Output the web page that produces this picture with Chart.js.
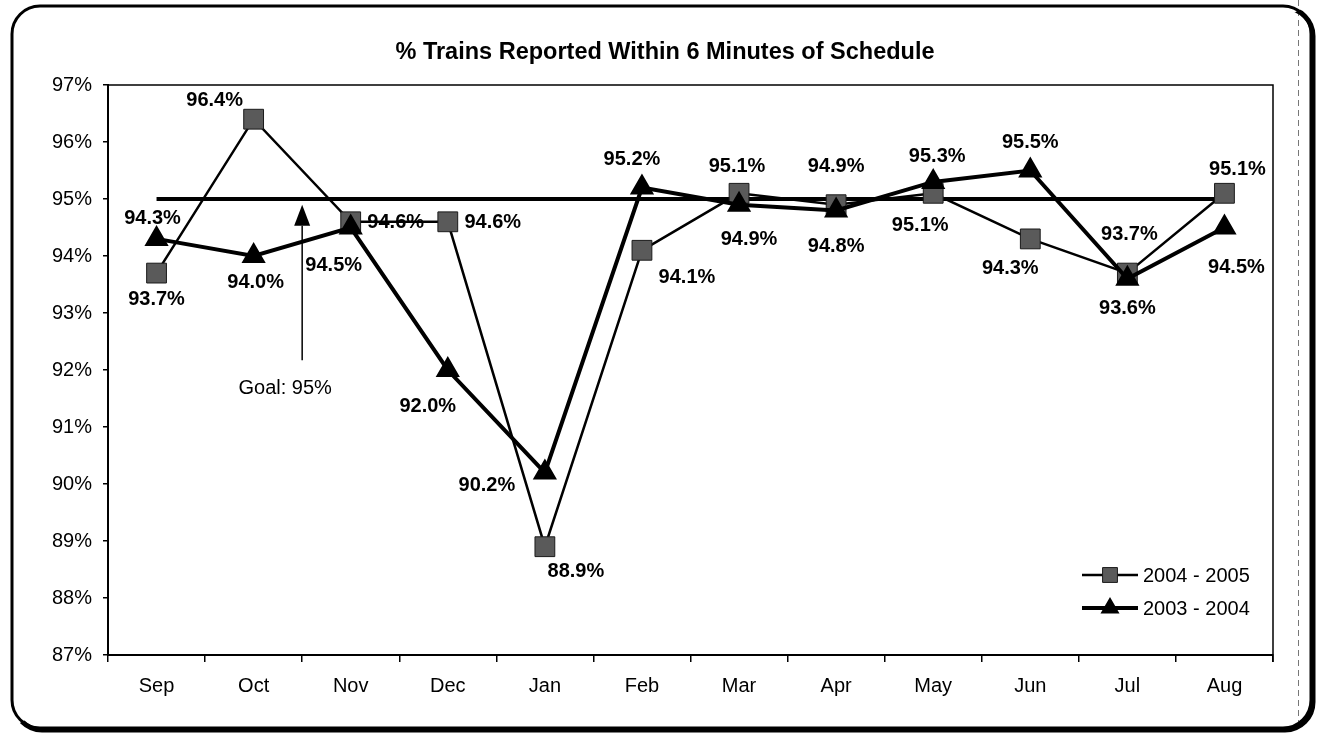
<!DOCTYPE html>
<html>
<head>
<meta charset="utf-8">
<script src="https://cdn.jsdelivr.net/npm/chart.js@4.4.0/dist/chart.umd.min.js"></script>
<style>
  html, body { margin: 0; padding: 0; background: #fff; }
  #wrap { width: 1317px; height: 734px; }
</style>
</head>
<body>
<div id="wrap"><canvas id="c" width="1317" height="734"></canvas></div>
<script>
// ---- data ----
const categories = ['Sep', 'Oct', 'Nov', 'Dec', 'Jan', 'Feb', 'Mar', 'Apr', 'May', 'Jun', 'Jul', 'Aug'];
const series2004_2005 = [93.7, 96.4, 94.6, 94.6, 88.9, 94.1, 95.1, 94.9, 95.1, 94.3, 93.7, 95.1];
const series2003_2004 = [94.3, 94.0, 94.5, 92.0, 90.2, 95.2, 94.9, 94.8, 95.3, 95.5, 93.6, 94.5];
const goalValues = [95, 95, 95, 95, 95, 95, 95, 95, 95, 95, 95, 95];
const yMin = 87, yMax = 97, yStep = 1;
const titleText = '% Trains Reported Within 6 Minutes of Schedule';
const goalText = 'Goal: 95%';
const goalArrow = { index: 1.5, tip: 94.9, head: 94.53, bottom: 92.17 };

// ---- label placement (offsets of label centre from the point, px) ----
const offsets2004_2005 = [[0, 26], [-39, -19], [45, 1], [45, 1], [31, 25], [45, 27], [-2, -27], [0, -38], [-13, 32], [-20, 30], [2, -39], [13, -24]];
const offsets2003_2004 = [[-4, -20], [2, 26], [-17, 38], [-20, 36], [-58, 13], [-10, -28], [10, 35], [0, 36], [4, -25], [0, -28], [0, 30], [12, 40]];

const FONT = '"Liberation Sans", Arial, Helvetica, sans-serif';

const framePlugin = {
  id: 'frame',
  beforeDraw(chart) {
    const ctx = chart.ctx;
    ctx.save();
    ctx.fillStyle = '#fff';
    ctx.fillRect(0, 0, chart.width, chart.height);
    // dashed vertical line at right
    ctx.strokeStyle = '#777';
    ctx.lineWidth = 1;
    ctx.setLineDash([6, 4]);
    ctx.beginPath();
    ctx.moveTo(1298.5, 0);
    ctx.lineTo(1298.5, 722);
    ctx.stroke();
    ctx.setLineDash([]);
    // rounded frame
    ctx.strokeStyle = '#000';
    ctx.lineWidth = 3;
    ctx.beginPath();
    ctx.roundRect(12, 6, 1299, 722, 28);
    ctx.stroke();
    // shadow on right/bottom
    ctx.save();
    ctx.beginPath();
    ctx.moveTo(1317, 0); ctx.lineTo(1317, 734); ctx.lineTo(0, 734); ctx.closePath();
    ctx.clip();
    ctx.lineWidth = 5;
    ctx.beginPath();
    ctx.roundRect(14, 8, 1299, 722, 28);
    ctx.stroke();
    ctx.restore();
    ctx.restore();
  },
  afterDraw(chart) {
    const ctx = chart.ctx, a = chart.chartArea;
    ctx.save();
    ctx.strokeStyle = '#000';
    ctx.lineWidth = 1.5;
    ctx.beginPath();
    ctx.moveTo(a.left, a.top);
    ctx.lineTo(a.right, a.top);
    ctx.lineTo(a.right, a.bottom + 7);
    ctx.stroke();
    ctx.restore();
  }
};

const labelPlugin = {
  id: 'valueLabels',
  afterDatasetsDraw(chart) {
    const ctx = chart.ctx;
    ctx.save();
    ctx.font = 'bold 20px ' + FONT;
    ctx.fillStyle = '#000';
    ctx.textAlign = 'center';
    ctx.textBaseline = 'middle';
    chart.data.datasets.forEach((ds, di) => {
      if (!ds.labelOffsets) return;
      const meta = chart.getDatasetMeta(di);
      meta.data.forEach((pt, i) => {
        const off = ds.labelOffsets[i];
        ctx.fillText(ds.data[i].toFixed(1) + '%', pt.x + off[0], pt.y + off[1]);
      });
    });
    ctx.restore();
  }
};

const arrowPlugin = {
  id: 'goalArrow',
  afterDatasetsDraw(chart) {
    const ctx = chart.ctx;
    const xs = chart.scales.x, ys = chart.scales.y;
    const x = xs.getPixelForValue(goalArrow.index);
    const tipY = ys.getPixelForValue(goalArrow.tip);
    const headY = ys.getPixelForValue(goalArrow.head);
    const botY = ys.getPixelForValue(goalArrow.bottom);
    ctx.save();
    ctx.strokeStyle = '#000';
    ctx.fillStyle = '#000';
    ctx.lineWidth = 1.5;
    ctx.beginPath();
    ctx.moveTo(x, headY);
    ctx.lineTo(x, botY);
    ctx.stroke();
    ctx.beginPath();
    ctx.moveTo(x, tipY);
    ctx.lineTo(x - 8, headY);
    ctx.lineTo(x + 8, headY);
    ctx.closePath();
    ctx.fill();
    ctx.font = '20px ' + FONT;
    ctx.textAlign = 'center';
    ctx.textBaseline = 'middle';
    ctx.fillText(goalText, x - 17, botY + 28);
    ctx.restore();
  }
};

const legendPlugin = {
  id: 'customLegend',
  afterDraw(chart) {
    const ctx = chart.ctx;
    const items = [chart.data.datasets[1], chart.data.datasets[0]];
    ctx.save();
    items.forEach((ds, i) => {
      const y = 575 + i * 33;
      ctx.strokeStyle = '#000';
      ctx.lineWidth = ds.borderWidth;
      ctx.beginPath();
      ctx.moveTo(1082, y);
      ctx.lineTo(1138, y);
      ctx.stroke();
      ctx.fillStyle = ds.pointBackgroundColor;
      ctx.strokeStyle = ds.pointBorderColor;
      ctx.lineWidth = ds.pointBorderWidth;
      Chart.helpers.drawPoint(ctx, { pointStyle: ds.pointStyle, radius: ds.pointRadius * 0.75, borderWidth: ds.pointBorderWidth, rotation: 0 }, 1110, y);
      ctx.fillStyle = '#000';
      ctx.font = '20px ' + FONT;
      ctx.textAlign = 'left';
      ctx.textBaseline = 'middle';
      ctx.fillText(ds.label, 1143, y + 1);
    });
    ctx.restore();
  }
};

new Chart(document.getElementById('c'), {
  type: 'line',
  data: {
    labels: categories,
    datasets: [
      {
        label: '2003 - 2004',
        data: series2003_2004,
        borderColor: '#000',
        borderWidth: 4,
        pointStyle: 'triangle',
        pointRadius: 12,
        pointBackgroundColor: '#000',
        pointBorderColor: '#000',
        pointBorderWidth: 2,
        order: 0,
        labelOffsets: offsets2003_2004
      },
      {
        label: '2004 - 2005',
        data: series2004_2005,
        borderColor: '#000',
        borderWidth: 2.5,
        pointStyle: 'rect',
        pointRadius: 14,
        pointBackgroundColor: '#5a5a5a',
        pointBorderColor: '#1a1a1a',
        pointBorderWidth: 1,
        order: 1,
        labelOffsets: offsets2004_2005
      },
      {
        label: 'Goal',
        data: goalValues,
        borderColor: '#000',
        borderWidth: 4,
        pointRadius: 0,
        order: 2
      }
    ]
  },
  options: {
    responsive: false,
    devicePixelRatio: 1,
    animation: false,
    layout: { padding: { left: 13, right: 0, top: 0, bottom: 0 } },
    elements: { line: { tension: 0 } },
    plugins: {
      legend: { display: false },
      tooltip: { enabled: false },
      title: {
        display: true,
        text: titleText,
        color: '#000',
        font: { family: FONT, size: 23.5, weight: 'bold' },
        padding: { top: 38, bottom: 18.8 }
      }
    },
    scales: {
      x: {
        type: 'category',
        offset: true,
        grid: { offset: true, drawOnChartArea: false, drawTicks: true, tickLength: 7, color: '#000', lineWidth: 1.5 },
        border: { display: true, color: '#000', width: 2 },
        ticks: { color: '#000', font: { family: FONT, size: 20 }, padding: 12, maxRotation: 0, autoSkip: false },
        afterFit(scale) { scale.height = 79; }
      },
      y: {
        min: yMin,
        max: yMax,
        grid: { drawOnChartArea: false, drawTicks: true, tickLength: 5, color: '#000', lineWidth: 1.5 },
        border: { display: true, color: '#000', width: 2 },
        ticks: { stepSize: yStep, color: '#000', font: { family: FONT, size: 20 }, padding: 11, callback: v => v + '%' },
        afterFit(scale) { scale.width = 95; }
      },
      yRightSpacer: {
        position: 'right',
        display: true,
        grid: { display: false, drawTicks: false },
        border: { display: false },
        ticks: { display: false },
        afterFit(scale) { scale.width = 44; }
      }
    }
  },
  plugins: [framePlugin, labelPlugin, arrowPlugin, legendPlugin]
});
</script>
</body>
</html>
